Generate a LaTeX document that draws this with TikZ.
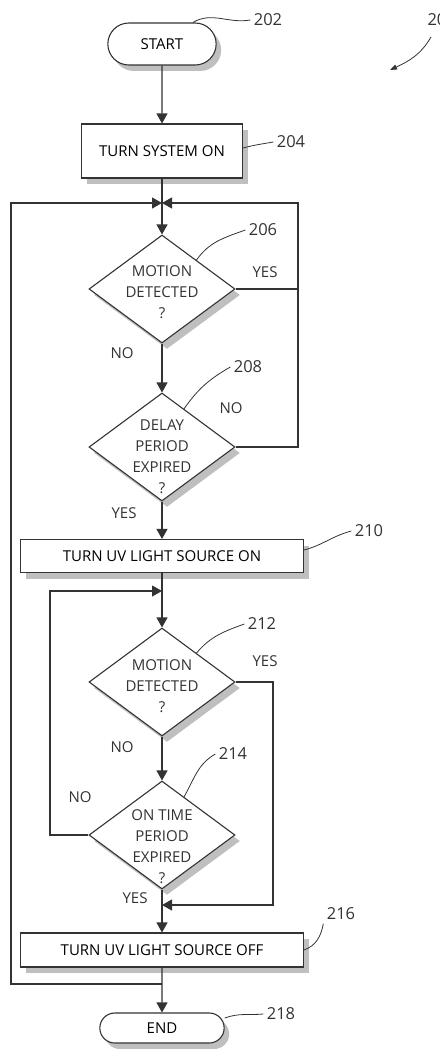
\documentclass[tikz,border=0pt]{standalone}
\usepackage{fontspec}
\setmainfont{Open Sans}
\usetikzlibrary{shapes.geometric,shapes.misc,shadows,arrows.meta}

\begin{document}
\begin{tikzpicture}[x=1pt, y=1pt, font=\fontsize{15}{21}\selectfont]
    \definecolor{lineColour}{HTML}{333333}
    \definecolor{shadowColour}{HTML}{808080}

    \tikzset{
        boxShadow/.style={drop shadow={shadow xshift=5pt, shadow yshift=-6pt, fill=shadowColour, opacity=0.5}},
        terminal/.style={rounded rectangle, draw=lineColour, fill=white, line width=1.1pt, boxShadow},
        process/.style={rectangle, draw=lineColour, fill=white, line width=1.1pt, boxShadow},
        decision/.style={diamond, draw=lineColour, fill=white, line width=1.1pt, inner sep=0pt, minimum width=146pt, minimum height=108pt, boxShadow},
        question/.style={align=center, text=lineColour},
        flow/.style={draw=lineColour, line width=1.1pt, -{Triangle[length=10pt,width=11pt]}},
        plain/.style={draw=lineColour, line width=1.1pt},
        leader/.style={draw=lineColour, line width=0.8pt},
        refNum/.style={font=\fontsize{16.5}{19}\selectfont, text=lineColour},
        answer/.style={text=lineColour}
    }

    \useasboundingbox (0,0) rectangle (439,-1049);

    % Boxes of the flow, top to bottom
    \node[terminal, minimum width=115pt, minimum height=42pt] (start) at (162,-44) {START};
    \node[process, minimum width=161pt, minimum height=54pt] (p204) at (162,-151) {TURN SYSTEM ON};
    \node[decision] (d206) at (162,-289) {};
    \node[question] (q206) at (162,-292) {MOTION\\DETECTED\\?};
    \node[decision] (d208) at (162,-447) {};
    \node[question] (q208) at (162,-457) {DELAY\\PERIOD\\EXPIRED\\?};
    \node[process, minimum width=283pt, minimum height=33pt] (p210) at (162,-556) {TURN UV LIGHT SOURCE ON};
    \node[decision] (d212) at (162,-682) {};
    \node[question] (q212) at (162,-686) {MOTION\\DETECTED\\?};
    \node[decision] (d214) at (162,-835) {};
    \node[question] (q214) at (162,-847) {ON TIME\\PERIOD\\EXPIRED\\?};
    \node[process, minimum width=283pt, minimum height=34pt] (p216) at (162,-950) {TURN UV LIGHT SOURCE OFF};
    \node[terminal, minimum width=131pt, minimum height=30pt] (end) at (162,-1028) {END};

    % Junctions and corners of the loops
    \coordinate (j1) at (162,-203);
    \coordinate (j2) at (162,-591);
    \coordinate (j3) at (162,-905);
    \coordinate (j4) at (162,-984);
    \coordinate (l1) at (11,-203);
    \coordinate (l2) at (50,-591);
    \coordinate (r1) at (298,-203);
    \coordinate (r2) at (273,-905);

    % Main line
    \draw[flow] (start) -- (p204);
    \draw[flow] (p204) -- (d206.north);
    \draw[flow] (d206.south) -- (d208.north);
    \draw[flow] (d208.south) -- (p210);
    \draw[flow] (p210) -- (d212.north);
    \draw[flow] (d212.south) -- (d214.north);
    \draw[flow] (d214.south) -- (p216);
    \draw[flow] (p216) -- (end);

    % Loops back
    \draw[flow] (d206.east) -| (r1) -- (j1);
    \draw[plain] (d208.east) -| (r1);
    \draw[flow] (j4) -| (l1) -- (j1);
    \draw[flow] (d214.west) -| (l2) -- (j2);
    \draw[flow] (d212.east) -| (r2) -- (j3);

    % Answers
    \node[answer] (yes206) at (265,-272) {YES};
    \node[answer] (no206) at (122,-353) {NO};
    \node[answer] (no208) at (231,-408) {NO};
    \node[answer] (yes208) at (124,-513) {YES};
    \node[answer] (yes212) at (265,-661) {YES};
    \node[answer] (no212) at (122,-747) {NO};
    \node[answer] (no214) at (80,-797) {NO};
    \node[answer] (yes214) at (135,-898) {YES};

    % Reference numerals
    \node[refNum] (n202) at (268,-20) {202};
    \node[refNum] (n204) at (291,-142) {204};
    \node[refNum] (n206) at (263,-230) {206};
    \node[refNum] (n208) at (248,-367) {208};
    \node[refNum] (n210) at (369,-531) {210};
    \node[refNum] (n212) at (262,-624) {212};
    \node[refNum] (n214) at (233,-754) {214};
    \node[refNum] (n216) at (341,-914) {216};
    \node[refNum] (n218) at (281,-1014) {218};
    \node[refNum, anchor=west] (n200) at (424,-20) {200};

    \draw[leader] (start.35) to[out=30, in=190] (n202.west);
    \draw[leader] ([yshift=3pt]p204.east) to[out=15, in=190] (n204.west);
    \draw[leader] (d206.40) to[out=55, in=200] (n206.west);
    \draw[leader] (d208.60) to[out=55, in=210] (n208.west);
    \draw[leader] ([yshift=6pt]p210.east) to[out=15, in=195] (n210.west);
    \draw[leader] (d212.40) to[out=50, in=200] (n212.west);
    \draw[leader] (d214.60) to[out=60, in=210] (n214.west);
    \draw[leader] (p216.east) to[out=20, in=260] (n216.south west);
    \draw[leader] ([yshift=10pt]end.east) to[out=20, in=185] (n218.west);

    % Pointer of the figure number
    \coordinate (a200) at (431,-37);
    \coordinate (b200) at (390,-70);
    \draw[leader, -{Triangle[length=7pt,width=5pt]}] (a200) to[out=240, in=25] (b200);
\end{tikzpicture}
\end{document}
